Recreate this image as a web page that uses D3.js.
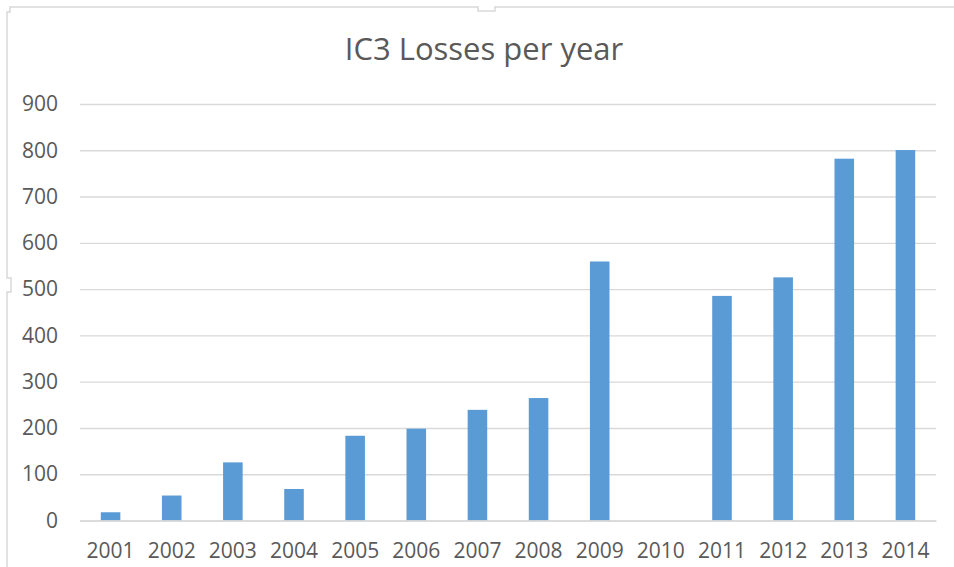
<!DOCTYPE html>
<html>
<head>
<meta charset="utf-8">
<script src="https://cdn.jsdelivr.net/npm/d3@7"></script>
<style>
  html, body { margin: 0; padding: 0; background: #fff; }
  svg { display: block; }
</style>
</head>
<body>
<svg id="chart" width="954" height="567"></svg>
<script>
const years = ["2001","2002","2003","2004","2005","2006","2007","2008","2009","2010","2011","2012","2013","2014"];
const losses = [17.8, 54, 125.6, 68.1, 183.1, 198.4, 239.1, 264.6, 559.7, null, 485.3, 525.4, 781.8, 800.5];
const yTicks = [0, 100, 200, 300, 400, 500, 600, 700, 800, 900];
const chartTitle = "IC3 Losses per year";

(function () {
const svg = d3.select("#chart");
const W = 954, H = 567;
const plotLeft = 80, plotRight = 936, plotTop = 104, plotBottom = 520.5;
const textColor = "#595959";
const gridColor = "#d9d9d9";
const barColor = "#5b9bd5";
const font = "'Open Sans', 'Liberation Sans', sans-serif";

// chart frame
svg.append("path")
  .attr("d", `M7,${H+5} L7,292 L11,292 L11,278 L7,278 L7,12 L10,12 L10,7 L478,7 L478,11 L495,11 L495,7 L${W+5},7`)
  .attr("fill", "none").attr("stroke", "#d9d9d9").attr("stroke-width", 1.5);

const x = d3.scaleBand().domain(years).range([plotLeft, plotRight]).paddingInner(0.68).paddingOuter(0.34);
const y = d3.scaleLinear().domain([0, 900]).range([plotBottom, plotTop]);

// gridlines + y labels
const yAxis = d3.axisLeft(y).tickValues(yTicks).tickSize(-(plotRight - plotLeft)).tickPadding(22).tickFormat(d3.format("d"));
const gy = svg.append("g").attr("transform", `translate(${plotLeft},0)`).call(yAxis);
gy.select(".domain").remove();
gy.selectAll(".tick line").attr("stroke", gridColor).attr("stroke-width", 1.4);
gy.selectAll(".tick text").attr("fill", textColor).attr("font-family", font).attr("font-size", 21);

// bars
svg.append("g").selectAll("rect")
  .data(years.map((yr, i) => ({ yr, v: losses[i] })).filter(d => d.v != null))
  .join("rect")
  .attr("x", d => x(d.yr))
  .attr("width", x.bandwidth())
  .attr("y", d => y(d.v))
  .attr("height", d => y(0) - y(d.v))
  .attr("fill", barColor);

// x axis
const xAxis = d3.axisBottom(x).tickSize(0).tickPadding(23);
const gx = svg.append("g").attr("transform", `translate(0,${plotBottom})`).call(xAxis);
gx.select(".domain").attr("stroke", gridColor).attr("stroke-width", 1.4);
gx.selectAll(".tick text").attr("fill", textColor).attr("font-family", font).attr("font-size", 21);

// title
svg.append("text")
  .attr("x", 484).attr("y", 60)
  .attr("text-anchor", "middle")
  .attr("fill", textColor)
  .attr("font-family", font)
  .attr("font-size", 31)
  .text(chartTitle);
})();
</script>
</body>
</html>
